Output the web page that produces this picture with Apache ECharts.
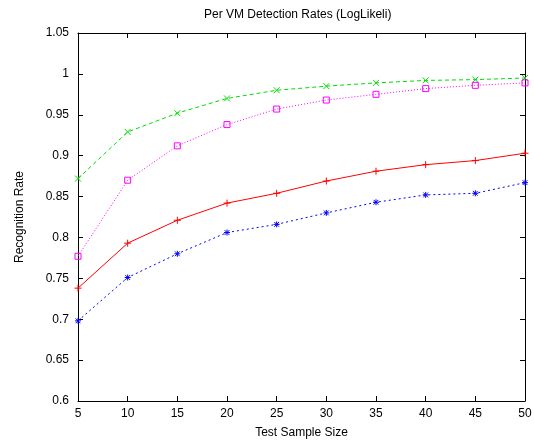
<!DOCTYPE html>
<html><head><meta charset="utf-8">
<script src="https://cdn.jsdelivr.net/npm/echarts@6/dist/echarts.min.js"></script>
<style>html,body{margin:0;padding:0;background:#fff}#c{width:534px;height:440px}</style>
</head><body><div id="c"></div>
<script>
var sampleSizes = [5, 10, 15, 20, 25, 30, 35, 40, 45, 50];
var greenVals = [0.872, 0.929, 0.952, 0.970, 0.980, 0.985, 0.989, 0.992, 0.993, 0.995];
var magentaVals = [0.777, 0.870, 0.912, 0.938, 0.957, 0.968, 0.975, 0.982, 0.986, 0.989];
var redVals = [0.738, 0.793, 0.821, 0.842, 0.854, 0.869, 0.881, 0.889, 0.894, 0.903];
var blueVals = [0.698, 0.751, 0.780, 0.806, 0.816, 0.830, 0.843, 0.852, 0.854, 0.867];

function pairs(v){ return sampleSizes.map(function(x,i){ return [x, v[i]]; }); }
var FONT = 'Liberation Sans';
var symX = 'path://M0,0L10,10M10,0L0,10';
var symPlus = 'path://M5,0L5,10M0,5L10,5';
var symSq = 'path://M0,0L10,0L10,10L0,10Z';
var symStar = 'path://M5,0L5,10M0,5L10,5M1,1L9,9M9,1L1,9';

function mk(name, vals, color, type, sym, size){
  return {
    name: name, type: 'line', data: pairs(vals), symbol: sym, symbolSize: size,
    lineStyle: {color: color, width: 1, type: type},
    itemStyle: {color: 'rgba(0,0,0,0)', borderColor: color, borderWidth: 1},
    emphasis: {disabled: true}, animation: false
  };
}
var chart = echarts.init(document.getElementById('c'), null, {renderer: 'canvas'});
var axLine = {show: true, lineStyle: {color: '#000', width: 1}};
chart.setOption({
  animation: false,
  title: {text: 'Per VM Detection Rates (LogLikeli)', left: 199, top: 4,
    textStyle: {fontFamily: FONT, fontSize: 12, fontWeight: 'normal', color: '#000'}},
  grid: {left: 78, right: 9, top: 33, bottom: 39, outerBoundsMode: 'none', containLabel: false},
  xAxis: [{
    type: 'value', min: 5, max: 50, interval: 5,
    name: 'Test Sample Size', nameLocation: 'middle', nameGap: 26,
    nameTextStyle: {fontFamily: FONT, fontSize: 12, color: '#000'},
    axisLine: axLine, axisTick: {inside: true, length: 5, lineStyle: {color: '#000'}},
    axisLabel: {fontFamily: FONT, fontSize: 12, color: '#000', margin: 7},
    splitLine: {show: false}
  }, {
    type: 'value', position: 'top', min: 5, max: 50, interval: 5,
    axisLine: axLine, axisTick: {inside: true, length: 5, lineStyle: {color: '#000'}},
    axisLabel: {show: false}, splitLine: {show: false}
  }],
  yAxis: [{
    type: 'value', min: 0.6, max: 1.05, interval: 0.05,
    name: 'Recognition Rate', nameLocation: 'middle', nameGap: 52, nameRotate: 90,
    nameTextStyle: {fontFamily: FONT, fontSize: 12, color: '#000'},
    axisLine: axLine, axisTick: {inside: true, length: 5, lineStyle: {color: '#000'}},
    axisLabel: {fontFamily: FONT, fontSize: 12, color: '#000', margin: 9,
      formatter: function(v){ return String(Math.round(v*100)/100); }},
    splitLine: {show: false}
  }, {
    type: 'value', position: 'right', min: 0.6, max: 1.05, interval: 0.05,
    axisLine: axLine, axisTick: {inside: true, length: 5, lineStyle: {color: '#000'}},
    axisLabel: {show: false}, splitLine: {show: false}
  }],
  series: [
    mk('green', greenVals, '#00dd00', [4, 3], symX, 6),
    mk('magenta', magentaVals, '#ff00ff', [1, 2], symSq, 6),
    mk('red', redVals, '#ff0000', 'solid', symPlus, 7),
    mk('blue', blueVals, '#0000ff', [2, 3], symStar, 6)
  ]
});
</script></body></html>
